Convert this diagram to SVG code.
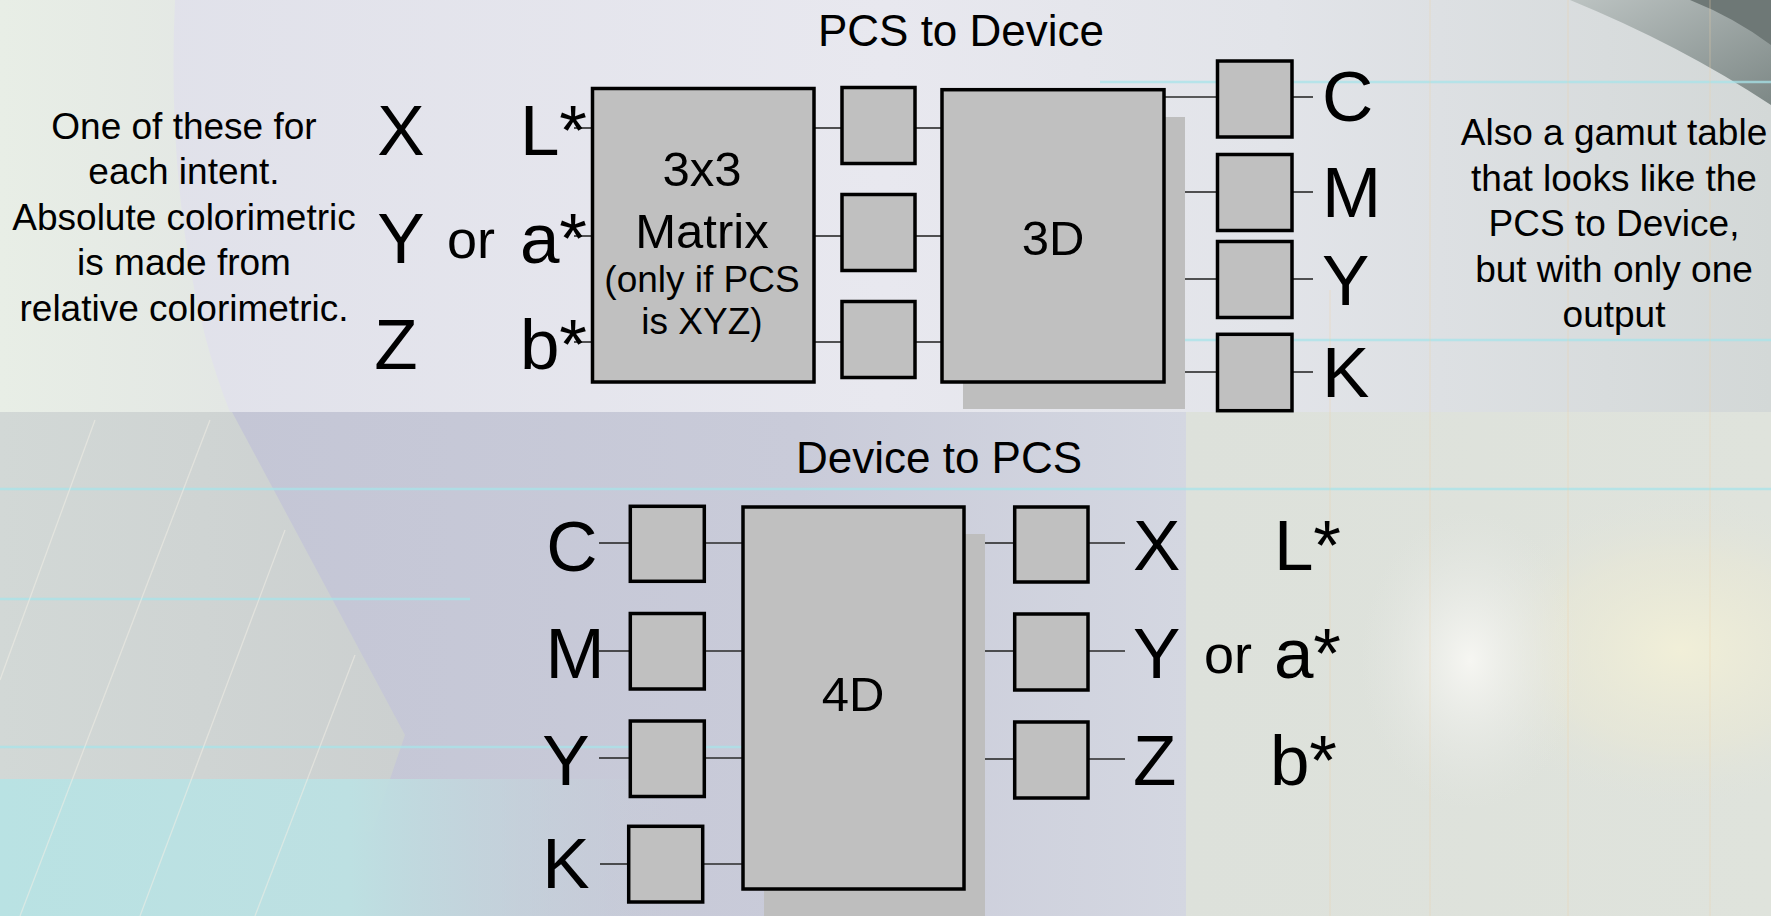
<svg xmlns="http://www.w3.org/2000/svg" width="1771" height="916" viewBox="0 0 1771 916">
<defs>
<style>
.box{fill:#c0c0c0;stroke:#000;stroke-width:3.5}
.shadow{fill:#bebebe}
.ln{stroke:#2a2a2a;stroke-width:1.6;fill:none}
.big{font-family:"Liberation Sans",Arial,sans-serif;font-size:71px;fill:#000}
.or{font-family:"Liberation Sans",Arial,sans-serif;font-size:54px;fill:#000}
.t37{font-family:"Liberation Sans",Arial,sans-serif;font-size:37px;fill:#000;text-anchor:middle}
.t44{font-family:"Liberation Sans",Arial,sans-serif;font-size:44px;fill:#000;text-anchor:middle}
.t49{font-family:"Liberation Sans",Arial,sans-serif;font-size:49px;fill:#000;text-anchor:middle}
.cyan{stroke:#a8e4ea;stroke-width:2.5;opacity:0.75}
.orl{stroke:#f0d2a8;stroke-width:1.2;opacity:0.35}
.wl{stroke:#f2efe6;stroke-width:1.3;opacity:0.55}
</style>
<linearGradient id="topg" x1="0" y1="0" x2="1" y2="0">
<stop offset="0" stop-color="#dfe0e9"/>
<stop offset="0.5" stop-color="#e8e8ef"/>
<stop offset="0.72" stop-color="#e2e4e9"/>
<stop offset="1" stop-color="#d3d8d7"/>
</linearGradient>
<linearGradient id="botg" x1="0" y1="0" x2="1" y2="0">
<stop offset="0" stop-color="#c2c4d4"/>
<stop offset="0.45" stop-color="#c9cbd9"/>
<stop offset="0.67" stop-color="#d4d7e1"/>
<stop offset="1" stop-color="#d9dde2"/>
</linearGradient>
<linearGradient id="rightg" x1="0" y1="0" x2="1" y2="0">
<stop offset="0" stop-color="#dde1db"/>
<stop offset="1" stop-color="#dfe3dc"/>
</linearGradient>
<linearGradient id="leftg" x1="0" y1="0" x2="1" y2="0">
<stop offset="0" stop-color="#e8eee6"/>
<stop offset="1" stop-color="#e3e7e4"/>
</linearGradient>
<linearGradient id="hexg" x1="0" y1="0" x2="1" y2="0">
<stop offset="0" stop-color="#d2d8d6"/>
<stop offset="1" stop-color="#ccd0d0"/>
</linearGradient>
<linearGradient id="cyg" x1="0" y1="0" x2="1" y2="0">
<stop offset="0" stop-color="#b9e2e3"/>
<stop offset="0.5" stop-color="#bde0e2"/>
<stop offset="1" stop-color="#c8cdd8" stop-opacity="0"/>
</linearGradient>
<radialGradient id="glow" cx="0.5" cy="0.5" r="0.5">
<stop offset="0" stop-color="#f1efd8"/>
<stop offset="0.6" stop-color="#e9e8d6" stop-opacity="0.6"/>
<stop offset="1" stop-color="#e0e3dc" stop-opacity="0"/>
</radialGradient>
<radialGradient id="flare" cx="0.5" cy="0.5" r="0.5">
<stop offset="0" stop-color="#f6f6f2"/>
<stop offset="1" stop-color="#e6e8e4" stop-opacity="0"/>
</radialGradient>
<linearGradient id="cornerg" x1="0" y1="0" x2="1" y2="1">
<stop offset="0" stop-color="#bcc3c2"/>
<stop offset="1" stop-color="#7d8886"/>
</linearGradient>
</defs>

<g id="background">
<rect x="0" y="0" width="1771" height="916" fill="url(#botg)"/>
<rect x="0" y="0" width="1771" height="412" fill="url(#topg)"/>
<rect x="1186" y="412" width="585" height="504" fill="url(#rightg)"/>
<ellipse cx="1680" cy="650" rx="220" ry="160" fill="url(#glow)"/>
<ellipse cx="1470" cy="660" rx="110" ry="150" fill="url(#flare)"/>
<path d="M0,0 L175,0 C168,150 185,300 230,412 L0,412 Z" fill="url(#leftg)"/>
<path d="M0,412 L232,412 L405,735 L372,832 L0,832 Z" fill="url(#hexg)"/>
<rect x="0" y="779" width="700" height="137" fill="url(#cyg)"/>
<path d="M1570,0 Q1680,45 1771,105 L1771,0 Z" fill="url(#cornerg)"/>
<path d="M1690,0 Q1735,18 1771,45 L1771,0 Z" fill="#6e7876"/>
<line class="cyan" x1="1100" y1="82" x2="1771" y2="82"/>
<line class="cyan" x1="1185" y1="340" x2="1771" y2="340"/>
<line class="cyan" x1="0" y1="489" x2="1771" y2="489"/>
<line class="cyan" x1="0" y1="599" x2="470" y2="599"/>
<line class="cyan" x1="0" y1="747" x2="760" y2="747"/>
<line class="orl" x1="1430" y1="0" x2="1430" y2="916"/>
<line class="orl" x1="1568" y1="0" x2="1568" y2="916"/>
<line class="orl" x1="1710" y1="0" x2="1710" y2="916"/>
<line class="orl" x1="1330" y1="290" x2="1330" y2="916"/>
<line class="wl" x1="95" y1="420" x2="0" y2="680"/>
<line class="wl" x1="210" y1="420" x2="20" y2="916"/>
<line class="wl" x1="285" y1="530" x2="140" y2="916"/>
<line class="wl" x1="355" y1="655" x2="255" y2="916"/>
</g>

<g id="connectors">
<line class="ln" x1="574" y1="128" x2="592" y2="128"/>
<line class="ln" x1="574" y1="236" x2="592" y2="236"/>
<line class="ln" x1="574" y1="342" x2="592" y2="342"/>
<line class="ln" x1="814" y1="128" x2="842" y2="128"/>
<line class="ln" x1="814" y1="236" x2="842" y2="236"/>
<line class="ln" x1="814" y1="342" x2="842" y2="342"/>
<line class="ln" x1="915" y1="128" x2="942" y2="128"/>
<line class="ln" x1="915" y1="236" x2="942" y2="236"/>
<line class="ln" x1="915" y1="342" x2="942" y2="342"/>
<line class="ln" x1="1164" y1="97" x2="1217" y2="97"/>
<line class="ln" x1="1185" y1="192" x2="1217" y2="192"/>
<line class="ln" x1="1185" y1="279" x2="1217" y2="279"/>
<line class="ln" x1="1185" y1="372" x2="1217" y2="372"/>
<line class="ln" x1="1292" y1="97" x2="1313" y2="97"/>
<line class="ln" x1="1292" y1="192" x2="1313" y2="192"/>
<line class="ln" x1="1292" y1="279" x2="1313" y2="279"/>
<line class="ln" x1="1292" y1="372" x2="1313" y2="372"/>
<line class="ln" x1="599" y1="543" x2="630" y2="543"/>
<line class="ln" x1="599" y1="651" x2="630" y2="651"/>
<line class="ln" x1="599" y1="758" x2="630" y2="758"/>
<line class="ln" x1="600" y1="864" x2="629" y2="864"/>
<line class="ln" x1="704" y1="543" x2="743" y2="543"/>
<line class="ln" x1="704" y1="651" x2="743" y2="651"/>
<line class="ln" x1="704" y1="758" x2="743" y2="758"/>
<line class="ln" x1="703" y1="864" x2="743" y2="864"/>
<line class="ln" x1="985" y1="543" x2="1015" y2="543"/>
<line class="ln" x1="985" y1="651" x2="1015" y2="651"/>
<line class="ln" x1="985" y1="759" x2="1015" y2="759"/>
<line class="ln" x1="1088" y1="543" x2="1125" y2="543"/>
<line class="ln" x1="1088" y1="651" x2="1125" y2="651"/>
<line class="ln" x1="1088" y1="759" x2="1125" y2="759"/>
</g>

<g id="title-pcs-to-device"><text class="t44" x="961" y="46">PCS to Device</text></g>
<g id="title-device-to-pcs"><text class="t44" x="939" y="473">Device to PCS</text></g>

<g id="note-left">
<text class="t37" x="184" y="138.5">One of these for</text>
<text class="t37" x="184" y="184">each intent.</text>
<text class="t37" x="184" y="229.5">Absolute colorimetric</text>
<text class="t37" x="184" y="275">is made from</text>
<text class="t37" x="184" y="320.5">relative colorimetric.</text>
</g>

<g id="note-right">
<text class="t37" x="1614" y="145">Also a gamut table</text>
<text class="t37" x="1614" y="190.5">that looks like the</text>
<text class="t37" x="1614" y="236">PCS to Device,</text>
<text class="t37" x="1614" y="281.5">but with only one</text>
<text class="t37" x="1614" y="327">output</text>
</g>

<g id="top-inputs">
<text class="big" x="401" y="155" text-anchor="middle">X</text>
<text class="big" x="401" y="263" text-anchor="middle">Y</text>
<text class="big" x="396" y="369" text-anchor="middle">Z</text>
<text class="or" x="471" y="258" text-anchor="middle">or</text>
<text class="big" x="587" y="155" text-anchor="end">L*</text>
<text class="big" x="587" y="263" text-anchor="end">a*</text>
<text class="big" x="587" y="369" text-anchor="end">b*</text>
</g>

<g id="matrix">
<rect class="box" x="592.5" y="88.5" width="221.5" height="293.5"/>
<text class="t49" x="702" y="186">3x3</text>
<text class="t49" x="702" y="248">Matrix</text>
<text class="t37" x="702" y="292">(only if PCS</text>
<text class="t37" x="702" y="334">is XYZ)</text>
</g>

<g id="curve-top-1"><rect class="box" x="842" y="87.5" width="73" height="76"/></g>
<g id="curve-top-2"><rect class="box" x="842" y="194.5" width="73" height="76"/></g>
<g id="curve-top-3"><rect class="box" x="842" y="301.5" width="73" height="76"/></g>

<g id="clut-3d">
<rect class="shadow" x="963" y="117" width="222" height="292"/>
<rect class="box" x="942" y="89.7" width="222" height="292.3"/>
<text class="t49" x="1053" y="255">3D</text>
</g>

<g id="out-c"><rect class="box" x="1217.5" y="61" width="74.5" height="76"/></g>
<g id="out-m"><rect class="box" x="1217.5" y="154.5" width="74.5" height="76"/></g>
<g id="out-y"><rect class="box" x="1217.5" y="241.5" width="74.5" height="76"/></g>
<g id="out-k"><rect class="box" x="1217.5" y="334.3" width="74.5" height="76.4"/></g>

<g id="top-outputs">
<text class="big" x="1322" y="121">C</text>
<text class="big" x="1322" y="217">M</text>
<text class="big" x="1322" y="305">Y</text>
<text class="big" x="1322" y="397">K</text>
</g>

<g id="bottom-inputs">
<text class="big" x="572" y="571" text-anchor="middle">C</text>
<text class="big" x="575" y="678" text-anchor="middle">M</text>
<text class="big" x="566" y="785" text-anchor="middle">Y</text>
<text class="big" x="566" y="888" text-anchor="middle">K</text>
</g>

<g id="in-c"><rect class="box" x="630.3" y="506.3" width="74" height="75"/></g>
<g id="in-m"><rect class="box" x="630.3" y="613.5" width="74" height="75.5"/></g>
<g id="in-y"><rect class="box" x="630.3" y="721" width="74" height="75.5"/></g>
<g id="in-k"><rect class="box" x="628.7" y="826.3" width="74" height="75.7"/></g>

<g id="clut-4d">
<rect class="shadow" x="764" y="534" width="221" height="390"/>
<rect class="box" x="743" y="507" width="221" height="382"/>
<text class="t49" x="853" y="711">4D</text>
</g>

<g id="pcs-x"><rect class="box" x="1014.7" y="507" width="73.3" height="75"/></g>
<g id="pcs-y"><rect class="box" x="1014.7" y="614" width="73.3" height="76"/></g>
<g id="pcs-z"><rect class="box" x="1014.7" y="722" width="73.3" height="76"/></g>

<g id="bottom-outputs">
<text class="big" x="1133" y="570">X</text>
<text class="big" x="1133" y="678">Y</text>
<text class="big" x="1133" y="785">Z</text>
<text class="or" x="1204" y="673">or</text>
<text class="big" x="1341" y="570" text-anchor="end">L*</text>
<text class="big" x="1341" y="678" text-anchor="end">a*</text>
<text class="big" x="1337" y="785" text-anchor="end">b*</text>
</g>
</svg>
